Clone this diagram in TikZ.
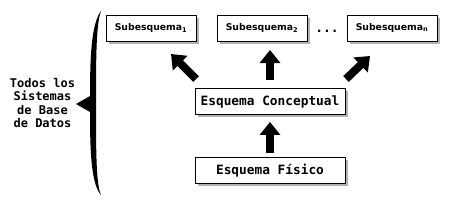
\documentclass[tikz,border=0pt]{standalone}
\usepackage{fontspec}
\setmainfont{DejaVu Sans}
\setmonofont{DejaVu Sans Mono}
\usepackage{tikz}
\usetikzlibrary{positioning,arrows.meta,shadows}
\tikzset{
  esqbox/.style={draw=black,line width=0.9pt,fill=white,align=center,inner sep=0pt,
    drop shadow={shadow xshift=2.5pt,shadow yshift=-2.5pt,fill=black,opacity=0.3}},
  subbox/.style={esqbox,minimum width=90pt,minimum height=26pt,font=\fontsize{9.3}{10}\selectfont\bfseries},
  mainbox/.style={esqbox,minimum width=150pt,minimum height=26pt,font=\fontsize{12.8}{14}\selectfont\ttfamily\bfseries},
  bigflow/.style={-{Triangle[length=13pt,width=20pt]},line width=8pt,draw=black}
}
\begin{document}
\begin{tikzpicture}[x=1pt,y=-1pt]
  \useasboundingbox (0,0) rectangle (450,210);
  \node[subbox] (sub1) at (151,28) {Subesquema\textsubscript{1}};
  \node[subbox] (sub2) at (262,28) {Subesquema\textsubscript{2}};
  \node[subbox] (subn) at (392,28) {Subesquema\textsubscript{n}};
  \node[font=\fontsize{13}{13}\selectfont\ttfamily\bfseries] (dots) at (327,31) {...};
  \node[mainbox] (conc) at (270,101.5) {Esquema Conceptual};
  \node[mainbox,below=42pt of conc] (fis) {Esquema Físico};
  \node[align=center,font=\fontsize{12}{13.5}\selectfont\ttfamily\bfseries] (todos) at (42.5,103) {Todos los\\Sistemas\\de Base\\de Datos};
  % brace
  \fill (101,11) .. controls (91,24) and (90,60) .. (90,96) -- (76,104) -- (90,112)
    .. controls (90,150) and (91,184) .. (101,195)
    .. controls (96,184) and (96,150) .. (96,104)
    .. controls (96,60) and (96,24) .. (101,11) -- cycle;
  % arrows
  \coordinate (a1) at (196,79);
  \coordinate (t1) at (171,54);
  \coordinate (a2) at (270,80);
  \coordinate (t2) at (270,50);
  \coordinate (a3) at (346,79);
  \coordinate (t3) at (370,56);
  \draw[bigflow] (a1) -- (t1);
  \draw[bigflow] (a2) -- (t2);
  \draw[bigflow] (a3) -- (t3);
  \draw[bigflow,shorten <=4pt,shorten >=7pt] (fis.north) -- (conc.south);
\end{tikzpicture}
\end{document}
